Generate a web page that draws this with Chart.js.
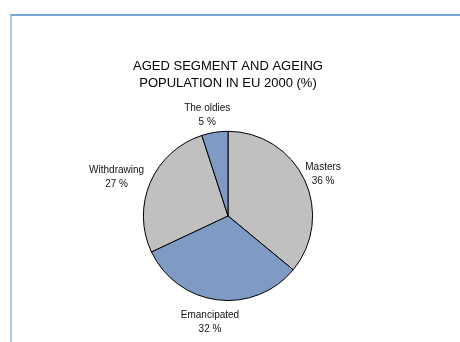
<!DOCTYPE html>
<html>
<head>
<meta charset="utf-8">
<script src="https://cdn.jsdelivr.net/npm/chart.js@4/dist/chart.umd.min.js"></script>
<style>
  html, body { margin: 0; padding: 0; background: #fff; }
  .wrap { position: relative; width: 460px; height: 342px; overflow: hidden; }
  .frame { position: absolute; left: 10px; top: 14px; right: 0; bottom: 0;
           border-top: 2px solid #7aa5d3; border-left: 2px solid #a9c6e6; }
  canvas { position: absolute; left: 0; top: 0; }
</style>
</head>
<body>
<div class="wrap">
  <div class="frame"></div>
  <canvas id="pie" width="460" height="342"></canvas>
</div>
<script>
const segments = ['Masters', 'Emancipated', 'Withdrawing', 'The oldies'];
const shares = [36, 32, 27, 5];
const sliceColors = ['#c0c0c0', '#7f9bc3', '#c0c0c0', '#7f9bc3'];
const titleLines = ['AGED SEGMENT AND AGEING', 'POPULATION IN EU 2000 (%)'];

const FONT = '"Liberation Sans", Arial, sans-serif';

// outside labels, pushed away from the pie along each slice's middle angle
const sliceLabels = {
  id: 'sliceLabels',
  afterDatasetsDraw(chart) {
    const ctx = chart.ctx;
    const meta = chart.getDatasetMeta(0);
    ctx.save();
    ctx.font = '10px ' + FONT;
    ctx.fillStyle = '#111';
    ctx.textAlign = 'center';
    ctx.textBaseline = 'middle';
    meta.data.forEach((arc, i) => {
      const mid = (arc.startAngle + arc.endAngle) / 2;
      const dx = Math.cos(mid), dy = Math.sin(mid);
      const r = arc.outerRadius + 6;
      const lines = [segments[i], shares[i] + ' %'];
      const w = Math.max(...lines.map(t => ctx.measureText(t).width));
      const h = 28;
      const cx = arc.x + dx * r + dx * w / 2 - 3;
      const cy = arc.y + dy * r + dy * h / 2 + 3;
      ctx.fillText(lines[0], cx, cy - 7);
      ctx.fillText(lines[1], cx, cy + 7);
    });
    ctx.restore();
  }
};

new Chart(document.getElementById('pie'), {
  type: 'pie',
  data: {
    labels: segments,
    datasets: [{
      data: shares,
      backgroundColor: sliceColors,
      borderColor: '#000',
      borderWidth: 1
    }]
  },
  options: {
    responsive: false,
    animation: false,
    layout: { padding: { left: 100, right: 104, top: 0, bottom: 41 } },
    plugins: {
      legend: { display: false },
      tooltip: { enabled: false },
      title: {
        display: true,
        text: titleLines,
        color: '#000',
        font: { family: FONT, size: 13, weight: 'normal', lineHeight: 1.3 },
        padding: { top: 58, bottom: 39 }
      }
    }
  },
  plugins: [sliceLabels]
});
</script>
</body>
</html>
